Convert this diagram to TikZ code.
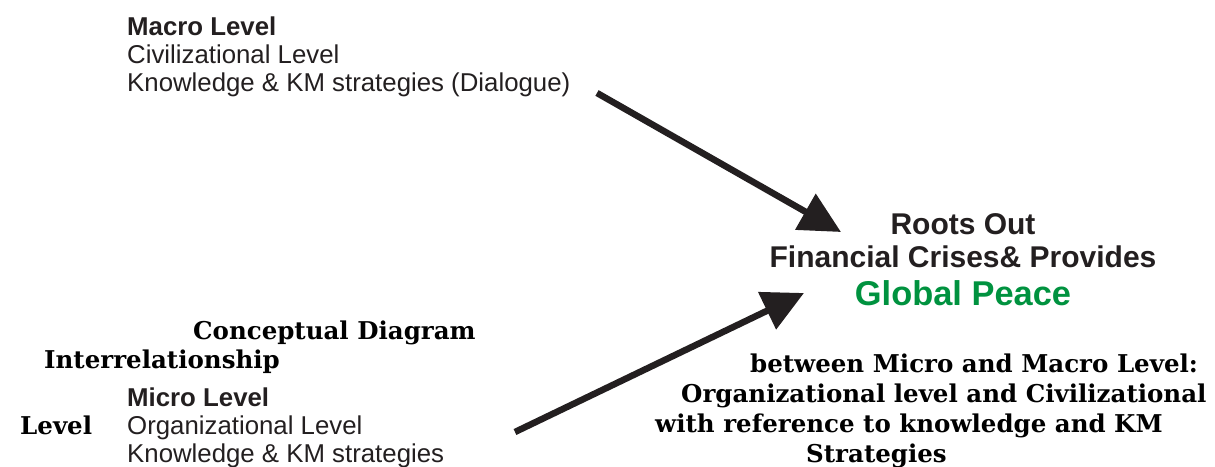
\documentclass[tikz,border=0pt]{standalone}
\usepackage{fontspec}
\setmainfont{Liberation Sans}
\newfontfamily\slabfont{DejaVu Serif}
\usetikzlibrary{arrows.meta}
\definecolor{InkBlack}{HTML}{231F20}
\definecolor{PeaceGreen}{HTML}{00923F}

\tikzset{
  plain/.style={anchor=base west,inner sep=0pt,text=InkBlack,font=\fontsize{25.8}{28}\selectfont},
  plainbf/.style={plain,font=\fontsize{25.8}{28}\selectfont\bfseries},
  slab/.style={anchor=base west,inner sep=0pt,text=black,font=\fontsize{24.5}{28}\selectfont\slabfont\bfseries},
  goal/.style={anchor=base,inner sep=0pt,text=InkBlack,font=\fontsize{30}{32}\selectfont\bfseries},
  flow/.style={draw=InkBlack,line width=6.5pt,-{Triangle[length=41pt,width=40pt]}},
}

\begin{document}
\begin{tikzpicture}[x=1pt,y=1pt]
\path[use as bounding box] (0,0) rectangle (1215,466);
% macro level
\node[plainbf] (macro) at (127,430) {Macro Level};
\node[plain] (civ) at (127,402) {Civilizational Level};
\node[plain] (dialogue) at (127,374) {Knowledge \& KM strategies (Dialogue)};
% outcome
\node[goal] (roots) at (963,231) {Roots Out};
\node[goal] (crises) at (963,198) {Financial Crises\& Provides};
\node[goal,text=PeaceGreen,font=\fontsize{34.4}{36}\selectfont\bfseries] (peace) at (963,160) {Global Peace};
% caption pieces
\node[slab] (concept) at (193,126) {Conceptual Diagram};
\node[slab] (inter) at (44,98) {Interrelationship};
\node[slab] (lvl) at (20,32) {Level};
\node[slab] (cap1) at (750,94) {between Micro and Macro Level:};
\node[slab] (cap2) at (681,64) {Organizational level and Civilizational};
\node[slab] (cap3) at (655,34) {with reference to knowledge and KM};
\node[slab] (cap4) at (806,4) {Strategies};
% micro level
\node[plainbf] (micro) at (127,60) {Micro Level};
\node[plain] (org) at (127,32) {Organizational Level};
\node[plain] (kms) at (127,4) {Knowledge \& KM strategies};
% arrows
\coordinate (top start) at (597,373);
\coordinate (top tip) at (841,234);
\coordinate (low start) at (515,34);
\coordinate (low tip) at (804,173);
\draw[flow] (top start) -- (top tip);
\draw[flow] (low start) -- (low tip);
\end{tikzpicture}
\end{document}
